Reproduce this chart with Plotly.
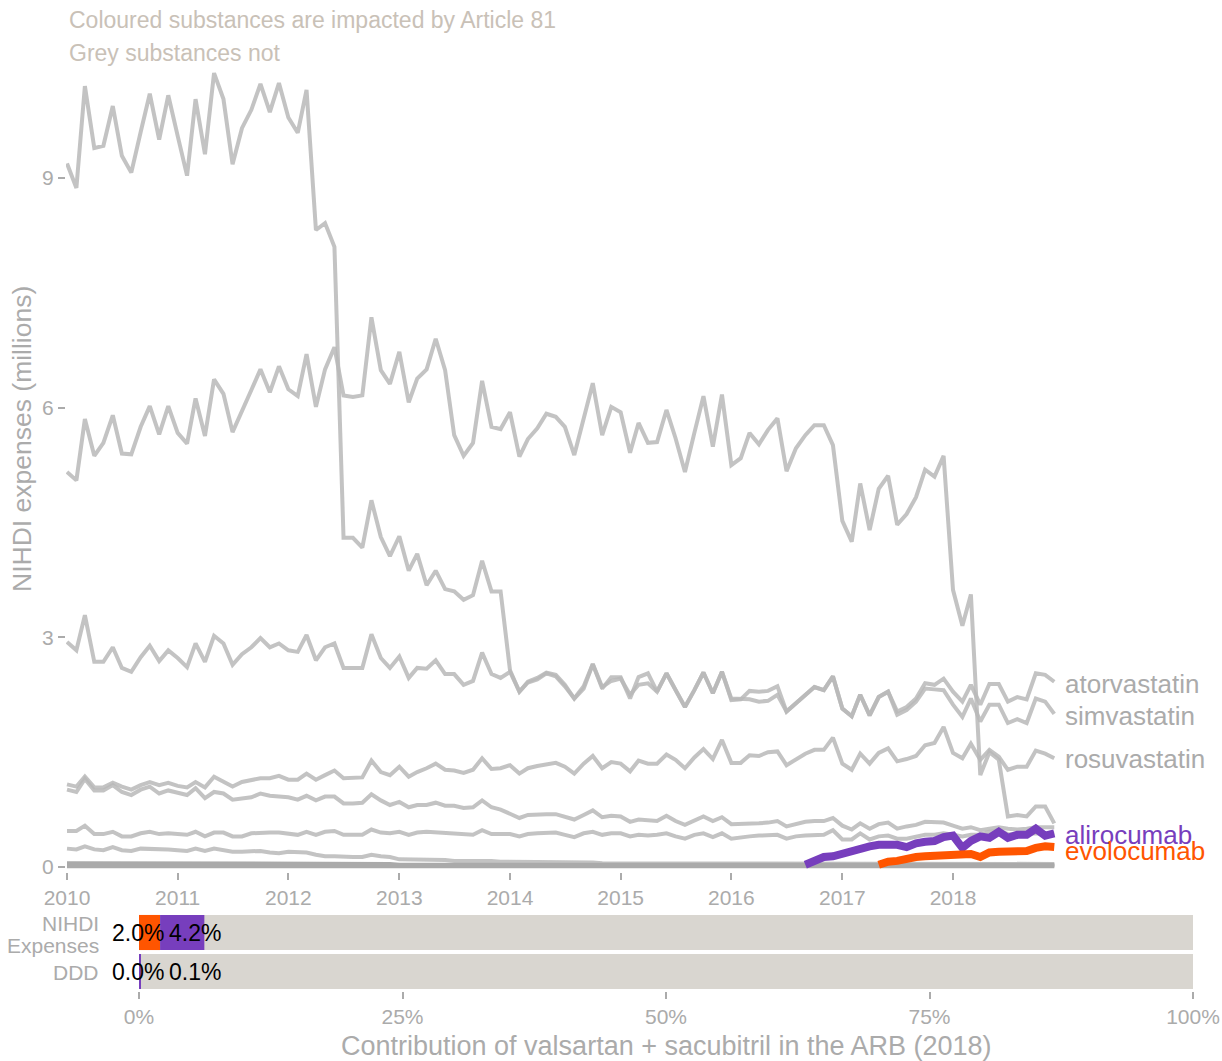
import plotly.graph_objects as go
import pandas as pd

# ---------------- data ----------------
months = list(pd.date_range("2010-01-01", "2018-12-01", freq="MS"))
year_ticks = [pd.Timestamp(f"{y}-01-01") for y in range(2010, 2019)]
year_labels = [str(y) for y in range(2010, 2019)]

atorvastatin = [
    9.19, 8.87, 10.2, 9.39, 9.42, 9.94, 9.29, 9.07, 9.6, 10.1,
    9.5, 10.08, 9.55, 9.03, 10.03, 9.31, 10.37, 10.03, 9.18, 9.65,
    9.89, 10.23, 9.86, 10.24, 9.79, 9.59, 10.15, 8.32, 8.41, 8.1,
    4.3, 4.3, 4.17, 4.79, 4.31, 4.06, 4.32, 3.87, 4.09, 3.68,
    3.87, 3.63, 3.6, 3.49, 3.55, 4.0, 3.6, 3.6, 2.57, 2.29,
    2.41, 2.45, 2.53, 2.49, 2.36, 2.2, 2.36, 2.65, 2.33, 2.48,
    2.48, 2.2, 2.48, 2.53, 2.29, 2.53, 2.31, 2.09, 2.31, 2.54,
    2.27, 2.55, 2.18, 2.19, 2.3, 2.29, 2.3, 2.36, 2.03, 2.14,
    2.25, 2.35, 2.31, 2.49, 2.07, 1.97, 2.25, 1.98, 2.22, 2.29,
    2.03, 2.09, 2.2, 2.4, 2.38, 2.46, 2.29, 2.16, 2.38, 2.12,
    2.39, 2.39, 2.16, 2.22, 2.19, 2.53, 2.51, 2.42,
]
simvastatin = [
    2.94, 2.83, 3.29, 2.68, 2.68, 2.87, 2.6, 2.55, 2.74, 2.89,
    2.69, 2.83, 2.73, 2.61, 2.92, 2.68, 3.02, 2.92, 2.64, 2.78,
    2.87, 2.99, 2.87, 2.92, 2.83, 2.81, 3.03, 2.7, 2.87, 2.92,
    2.6, 2.6, 2.6, 3.04, 2.73, 2.6, 2.75, 2.47, 2.6, 2.59,
    2.7, 2.52, 2.52, 2.38, 2.43, 2.8, 2.52, 2.47, 2.55, 2.29,
    2.42, 2.47, 2.54, 2.51, 2.38, 2.2, 2.33, 2.65, 2.35, 2.43,
    2.46, 2.25, 2.38, 2.4, 2.29, 2.53, 2.31, 2.09, 2.31, 2.54,
    2.27, 2.55, 2.2, 2.19, 2.19, 2.16, 2.17, 2.25, 2.03, 2.14,
    2.25, 2.35, 2.31, 2.49, 2.07, 1.97, 2.25, 1.98, 2.22, 2.29,
    1.99, 2.05, 2.16, 2.33, 2.32, 2.31, 2.12, 1.96, 2.2, 1.9,
    2.12, 2.12, 1.88, 1.93, 1.88, 2.2, 2.16, 2.0,
]
rosuvastatin = [
    1.08, 1.05, 1.18, 1.04, 1.04, 1.1, 1.05, 1.01, 1.07, 1.11,
    1.07, 1.1, 1.06, 1.04, 1.11, 1.04, 1.18, 1.11, 1.05, 1.11,
    1.14, 1.16, 1.16, 1.19, 1.14, 1.14, 1.22, 1.14, 1.2, 1.26,
    1.16, 1.16, 1.17, 1.39, 1.24, 1.2, 1.31, 1.18, 1.24, 1.29,
    1.35, 1.27, 1.26, 1.23, 1.27, 1.42, 1.28, 1.29, 1.33, 1.22,
    1.29, 1.32, 1.34, 1.36, 1.31, 1.22, 1.35, 1.45, 1.29, 1.37,
    1.35, 1.25, 1.39, 1.35, 1.35, 1.47, 1.4, 1.29, 1.43, 1.54,
    1.41, 1.66, 1.36, 1.36, 1.46, 1.45, 1.5, 1.51, 1.33, 1.41,
    1.48, 1.53, 1.53, 1.69, 1.35, 1.27, 1.48, 1.35, 1.49, 1.55,
    1.38, 1.41, 1.45, 1.59, 1.62, 1.83, 1.49, 1.42, 1.61, 1.4,
    1.53, 1.44, 1.27, 1.31, 1.31, 1.52, 1.48, 1.42,
]
other_statin_a = [
    5.16, 5.05, 5.85, 5.37, 5.54, 5.9, 5.4, 5.39, 5.75, 6.02,
    5.65, 6.02, 5.67, 5.53, 6.12, 5.63, 6.37, 6.18, 5.68, 5.97,
    6.23, 6.5, 6.2, 6.54, 6.24, 6.15, 6.7, 6.01, 6.5, 6.79,
    6.16, 6.14, 6.16, 7.18, 6.49, 6.31, 6.73, 6.07, 6.38, 6.5,
    6.9, 6.49, 5.64, 5.37, 5.54, 6.35, 5.75, 5.72, 5.94, 5.36,
    5.59, 5.73, 5.92, 5.88, 5.75, 5.38, 5.85, 6.32, 5.64, 6.01,
    5.94, 5.41, 5.8, 5.54, 5.55, 5.97, 5.6, 5.16, 5.67, 6.15,
    5.49, 6.17, 5.25, 5.34, 5.67, 5.52, 5.71, 5.86, 5.17, 5.47,
    5.64, 5.77, 5.77, 5.51, 4.52, 4.25, 5.01, 4.4, 4.94, 5.11,
    4.47, 4.61, 4.83, 5.19, 5.1, 5.37, 3.62, 3.15, 3.56, 1.2,
    1.5, 1.4, 0.66, 0.68, 0.66, 0.79, 0.79, 0.57,
]
other_statin_b = [
    1.01, 0.98, 1.15, 1.0, 1.0, 1.07, 0.98, 0.94, 1.01, 1.05,
    0.96, 1.0, 0.97, 0.94, 1.03, 0.9, 0.98, 0.96, 0.88, 0.9,
    0.91, 0.96, 0.93, 0.92, 0.91, 0.88, 0.93, 0.87, 0.92, 0.92,
    0.83, 0.83, 0.84, 0.95, 0.87, 0.81, 0.85, 0.78, 0.81, 0.81,
    0.84, 0.8, 0.8, 0.77, 0.78, 0.87, 0.78, 0.75, 0.7, 0.64,
    0.68, 0.69, 0.69, 0.69, 0.66, 0.62, 0.68, 0.74, 0.65, 0.67,
    0.66, 0.59, 0.62, 0.61, 0.6, 0.67, 0.6, 0.55, 0.6, 0.66,
    0.6, 0.65, 0.56, 0.56, 0.57, 0.57, 0.58, 0.6, 0.53, 0.56,
    0.59, 0.6, 0.6, 0.64, 0.54, 0.49, 0.57, 0.5, 0.56, 0.58,
    0.5, 0.53, 0.55, 0.59, 0.59, 0.58, 0.54, 0.5, 0.52, 0.48,
    0.5, 0.52, 0.5, 0.49, 0.5, 0.52, 0.52, 0.52,
]
other_statin_c = [
    0.47, 0.47, 0.54, 0.43, 0.43, 0.46, 0.4, 0.4, 0.44, 0.46,
    0.43, 0.44, 0.43, 0.42, 0.46, 0.4, 0.45, 0.45, 0.4, 0.4,
    0.44, 0.45, 0.45, 0.45, 0.43, 0.42, 0.46, 0.42, 0.46, 0.47,
    0.42, 0.42, 0.42, 0.49, 0.45, 0.44, 0.46, 0.42, 0.45, 0.46,
    0.45, 0.44, 0.43, 0.42, 0.42, 0.48, 0.43, 0.43, 0.43, 0.4,
    0.43, 0.44, 0.44, 0.45, 0.42, 0.39, 0.44, 0.46, 0.42, 0.44,
    0.44, 0.4, 0.42, 0.41, 0.42, 0.44, 0.4, 0.37, 0.42, 0.44,
    0.39, 0.44, 0.37, 0.39, 0.4, 0.41, 0.41, 0.42, 0.37, 0.4,
    0.41, 0.42, 0.42, 0.48, 0.36, 0.36, 0.44, 0.36, 0.4, 0.41,
    0.37, 0.37, 0.4, 0.42, 0.42, 0.44, 0.42, 0.4, 0.42, 0.42,
    0.46, 0.48, 0.43, 0.42, 0.43, 0.44, 0.43, 0.44,
]
other_statin_d = [
    0.24, 0.23, 0.27, 0.23, 0.22, 0.26, 0.22, 0.21, 0.24, 0.24,
    0.23, 0.23, 0.22, 0.21, 0.24, 0.21, 0.24, 0.22, 0.2, 0.2,
    0.21, 0.21, 0.19, 0.18, 0.2, 0.2, 0.19, 0.16, 0.14, 0.14,
    0.13, 0.13, 0.13, 0.16, 0.14, 0.13, 0.1, 0.1, 0.1, 0.09,
    0.09, 0.09, 0.08, 0.08, 0.08, 0.09, 0.08, 0.07, 0.07, 0.07,
    0.07, 0.06, 0.06, 0.06, 0.06, 0.06, 0.06, 0.06, 0.05, 0.05,
    0.05, 0.05, 0.05, 0.05, 0.05, 0.05, 0.05, 0.05, 0.05, 0.05,
    0.05, 0.05, 0.05, 0.05, 0.05, 0.05, 0.04, 0.04, 0.04, 0.04,
    0.04, 0.04, 0.04, 0.04, 0.04, 0.04, 0.04, 0.04, 0.04, 0.04,
    0.04, 0.04, 0.04, 0.04, 0.04, 0.04, 0.04, 0.04, 0.04, 0.04,
    0.04, 0.04, 0.04, 0.04, 0.04, 0.04, 0.04, 0.04,
]
other_statin_e = [
    0.05, 0.05, 0.05, 0.05, 0.05, 0.05, 0.05, 0.05, 0.05, 0.05,
    0.05, 0.05, 0.05, 0.05, 0.05, 0.05, 0.05, 0.05, 0.05, 0.05,
    0.04, 0.04, 0.04, 0.04, 0.04, 0.04, 0.04, 0.04, 0.04, 0.04,
    0.04, 0.04, 0.04, 0.04, 0.04, 0.04, 0.03, 0.03, 0.03, 0.03,
    0.03, 0.03, 0.03, 0.03, 0.03, 0.03, 0.03, 0.03, 0.03, 0.03,
    0.03, 0.03, 0.03, 0.03, 0.03, 0.03, 0.03, 0.03, 0.03, 0.03,
    0.03, 0.03, 0.03, 0.03, 0.03, 0.03, 0.03, 0.03, 0.03, 0.03,
    0.03, 0.03, 0.03, 0.03, 0.03, 0.03, 0.03, 0.03, 0.03, 0.03,
    0.03, 0.03, 0.03, 0.03, 0.03, 0.03, 0.03, 0.03, 0.03, 0.03,
    0.03, 0.03, 0.03, 0.03, 0.03, 0.03, 0.03, 0.03, 0.03, 0.03,
    0.03, 0.03, 0.03, 0.03, 0.03, 0.03, 0.03, 0.03,
]
other_statin_f = [
    0.01, 0.01, 0.01, 0.01, 0.01, 0.01, 0.01, 0.01, 0.01, 0.01,
    0.01, 0.01, 0.01, 0.01, 0.01, 0.01, 0.01, 0.01, 0.01, 0.01,
    0.01, 0.01, 0.01, 0.01, 0.01, 0.01, 0.01, 0.01, 0.01, 0.01,
    0.01, 0.01, 0.01, 0.01, 0.01, 0.01, 0.01, 0.01, 0.01, 0.01,
    0.01, 0.01, 0.01, 0.01, 0.01, 0.01, 0.01, 0.01, 0.01, 0.01,
    0.01, 0.01, 0.01, 0.01, 0.01, 0.01, 0.01, 0.01, 0.01, 0.01,
    0.01, 0.01, 0.01, 0.01, 0.01, 0.01, 0.01, 0.01, 0.01, 0.01,
    0.01, 0.01, 0.01, 0.01, 0.01, 0.01, 0.01, 0.01, 0.01, 0.01,
    0.01, 0.01, 0.01, 0.01, 0.01, 0.01, 0.01, 0.01, 0.01, 0.01,
    0.01, 0.01, 0.01, 0.01, 0.01, 0.01, 0.01, 0.01, 0.01, 0.01,
    0.01, 0.01, 0.01, 0.01, 0.01, 0.01, 0.01, 0.01,
]
other_statin_g = [
    0.02, 0.02, 0.02, 0.02, 0.02, 0.02, 0.02, 0.02, 0.02, 0.02,
    0.02, 0.02, 0.02, 0.02, 0.02, 0.02, 0.02, 0.02, 0.02, 0.02,
    0.02, 0.02, 0.02, 0.02, 0.02, 0.02, 0.02, 0.02, 0.02, 0.02,
    0.02, 0.02, 0.02, 0.02, 0.02, 0.02, 0.02, 0.02, 0.02, 0.02,
    0.02, 0.02, 0.02, 0.02, 0.02, 0.02, 0.02, 0.02, 0.02, 0.02,
    0.02, 0.02, 0.02, 0.02, 0.02, 0.02, 0.02, 0.02, 0.02, 0.02,
    0.02, 0.02, 0.02, 0.02, 0.02, 0.02, 0.02, 0.02, 0.02, 0.02,
    0.02, 0.02, 0.02, 0.02, 0.02, 0.02, 0.02, 0.02, 0.02, 0.02,
    0.02, 0.02, 0.02, 0.02, 0.02, 0.02, 0.02, 0.02, 0.02, 0.02,
    0.02, 0.02, 0.02, 0.02, 0.02, 0.02, 0.02, 0.02, 0.02, 0.02,
    0.02, 0.02, 0.02, 0.02, 0.02, 0.02, 0.02, 0.02,
]
# PCSK9 inhibitors (start later)
alirocumab = [
    0.03, 0.09, 0.13, 0.14, 0.18, 0.22, 0.24, 0.27, 0.29, 0.3,
    0.29, 0.26, 0.31, 0.33, 0.34, 0.39, 0.41, 0.25, 0.34, 0.4,
    0.38, 0.46, 0.38, 0.42, 0.42, 0.5, 0.41, 0.44,
]
evolocumab = [
    0.03, 0.07, 0.08, 0.11, 0.13, 0.14, 0.15, 0.16, 0.16, 0.18,
    0.17, 0.13, 0.19, 0.2, 0.2, 0.19, 0.21, 0.25, 0.27, 0.26,
]
alirocumab_months = months[len(months) - len(alirocumab):]
evolocumab_months = months[len(months) - len(evolocumab):]

# bottom bar chart
bar_rows = ["DDD", "NIHDI Expenses"]
evolocumab_share = [0.04, 2.0]
alirocumab_share = [0.1, 4.2]
total_share = [100, 100]
pct_ticks = [0, 25, 50, 75, 100]
pct_labels = ["0%", "25%", "50%", "75%", "100%"]

# ---------------- style ----------------
W, H = 1222, 1061
FONT = "Liberation Sans, Arial, sans-serif"
GREY_TXT = "#ABABAB"
LINE_GREY = "rgba(185,185,185,0.85)"
ZERO_GREY = "#AAAAAA"
PURPLE = "#773EBD"
ORANGE = "#FF5500"
BAR_GREY = "#D9D6D0"


def px_x(p):
    return p / W


def px_y(p):
    return 1 - p / H


fig = go.Figure()

grey_series = [
    ("atorvastatin", atorvastatin, LINE_GREY),
    ("simvastatin", simvastatin, LINE_GREY),
    ("rosuvastatin", rosuvastatin, LINE_GREY),
    ("a", other_statin_a, LINE_GREY),
    ("b", other_statin_b, LINE_GREY),
    ("c", other_statin_c, LINE_GREY),
    ("d", other_statin_d, LINE_GREY),
    ("e", other_statin_e, ZERO_GREY),
    ("f", other_statin_f, ZERO_GREY),
    ("g", other_statin_g, ZERO_GREY),
]
for name, vals, col in grey_series:
    fig.add_trace(go.Scatter(
        x=months, y=vals, mode="lines", name=name,
        line=dict(color=col, width=4), hoverinfo="skip",
        xaxis="x", yaxis="y", showlegend=False))

fig.add_trace(go.Scatter(x=alirocumab_months, y=alirocumab, mode="lines",
                         line=dict(color=PURPLE, width=8), showlegend=False,
                         xaxis="x", yaxis="y"))
fig.add_trace(go.Scatter(x=evolocumab_months, y=evolocumab, mode="lines",
                         line=dict(color=ORANGE, width=8), showlegend=False,
                         xaxis="x", yaxis="y"))

# bars
rows_idx = [0, 1]
fig.add_trace(go.Bar(y=rows_idx, x=total_share, base=[0, 0], orientation="h",
                     marker=dict(color=BAR_GREY, line=dict(width=0)), width=0.9,
                     xaxis="x2", yaxis="y2", showlegend=False, hoverinfo="skip"))
fig.add_trace(go.Bar(y=rows_idx, x=evolocumab_share, base=[0, 0], orientation="h",
                     marker=dict(color=ORANGE, line=dict(width=0)), width=0.9,
                     xaxis="x2", yaxis="y2", showlegend=False))
fig.add_trace(go.Bar(y=rows_idx, x=alirocumab_share, base=evolocumab_share,
                     orientation="h",
                     marker=dict(color=PURPLE, line=dict(width=0)), width=0.9,
                     xaxis="x2", yaxis="y2", showlegend=False))

annotations = []
# bar value labels
label_x = [-0.1, 5.35]
for i in rows_idx:
    for xv, val in zip(label_x, [evolocumab_share[i], alirocumab_share[i]]):
        annotations.append(dict(
            x=xv, y=i, xref="x2", yref="y2", text=f"{val:.1f}%",
            showarrow=False, xanchor="center", yanchor="middle",
            font=dict(family=FONT, size=23, color="black")))

# row labels of the bar chart (right aligned, tight line spacing)
row_label_lines = [("DDD", 972), ("Expenses", 945), ("NIHDI", 923)]
for txt, ypx in row_label_lines:
    annotations.append(dict(x=px_x(101), y=px_y(ypx), xref="paper", yref="paper",
                            text=txt, showarrow=False, xanchor="right",
                            yanchor="middle",
                            font=dict(family=FONT, size=21, color=GREY_TXT)))

# end-of-line labels
end_labels = [
    ("atorvastatin", atorvastatin[-1], GREY_TXT, -2),
    ("simvastatin", simvastatin[-1], GREY_TXT, -2),
    ("rosuvastatin", rosuvastatin[-1], GREY_TXT, -1),
    ("alirocumab", alirocumab[-1], PURPLE, -2),
    ("evolocumab", evolocumab[-1], ORANGE, -4),
]
for text, yv, col, ys in end_labels:
    annotations.append(dict(
        x=months[-1], y=yv, xref="x", yref="y", text=text, showarrow=False,
        xanchor="left", yanchor="middle", xshift=9, yshift=ys,
        font=dict(family=FONT, size=26, color=col)))

# top notes
annotations.append(dict(x=px_x(67), y=px_y(20), xref="paper", yref="paper",
                        text="Coloured substances are impacted by Article 81",
                        showarrow=False, xanchor="left", yanchor="middle",
                        font=dict(family=FONT, size=23, color="#C9C1B7")))
annotations.append(dict(x=px_x(67), y=px_y(53), xref="paper", yref="paper",
                        text="Grey substances not",
                        showarrow=False, xanchor="left", yanchor="middle",
                        font=dict(family=FONT, size=23, color="#C9C1B7")))
# axis titles
annotations.append(dict(x=px_x(22), y=px_y(439), xref="paper", yref="paper",
                        text="NIHDI expenses (millions)", textangle=-90,
                        showarrow=False, xanchor="center", yanchor="middle",
                        font=dict(family=FONT, size=26.5, color=GREY_TXT)))
annotations.append(dict(x=px_x(666), y=px_y(1046), xref="paper", yref="paper",
                        text="Contribution of valsartan + sacubitril in the ARB (2018)",
                        showarrow=False, xanchor="center", yanchor="middle",
                        font=dict(family=FONT, size=27, color=GREY_TXT)))

# main axes geometry (pixel based)
px_per_day = 110.75 / 365.25
x_left_px, x_right_px = 66, 1060
x0 = pd.Timestamp("2010-01-01") + pd.Timedelta(days=(x_left_px - 67) / px_per_day)
x1 = pd.Timestamp("2010-01-01") + pd.Timedelta(days=(x_right_px - 67) / px_per_day)
px_per_unit = 76.56
y_top_px, y_bot_px = 62, 872
y_lo = (867 - y_bot_px) / px_per_unit
y_hi = (867 - y_top_px) / px_per_unit

bx_left_px, bx_right_px = 104, 1200
bx0 = (bx_left_px - 139) / 10.54
bx1 = (bx_right_px - 139) / 10.54

axis_font = dict(family=FONT, size=21, color=GREY_TXT)

fig.update_layout(
    template="none",
    width=W, height=H, autosize=False,
    margin=dict(l=0, r=0, t=0, b=0, pad=0),
    paper_bgcolor="white", plot_bgcolor="white",
    barmode="overlay", showlegend=False,
    font=dict(family=FONT),
    xaxis=dict(domain=[px_x(x_left_px), px_x(x_right_px)], type="date",
               range=[x0, x1], tickvals=year_ticks, ticktext=year_labels,
               ticks="outside", ticklen=7, tickwidth=1.5, tickcolor=GREY_TXT,
               tickfont=axis_font, showgrid=False, zeroline=False,
               showline=False, anchor="y", automargin=False),
    yaxis=dict(domain=[px_y(y_bot_px), px_y(y_top_px)], range=[y_lo, y_hi],
               tickvals=[0, 3, 6, 9], ticks="outside", ticklen=7, tickwidth=1.5,
               tickcolor=GREY_TXT, tickfont=axis_font, showgrid=False,
               zeroline=False, showline=False, anchor="x", automargin=False),
    xaxis2=dict(domain=[px_x(bx_left_px), px_x(bx_right_px)], range=[bx0, bx1],
                tickvals=pct_ticks, ticktext=pct_labels, ticks="outside",
                ticklen=7, tickwidth=1.5, tickcolor=GREY_TXT, tickfont=axis_font,
                showgrid=False, zeroline=False, showline=False, anchor="y2",
                automargin=False),
    yaxis2=dict(domain=[px_y(991), px_y(913)], range=[-0.5, 1.5],
                tickvals=rows_idx, showticklabels=False, ticks="",
                showgrid=False, zeroline=False,
                showline=False, anchor="x2", automargin=False),
    annotations=annotations,
)

fig.write_html(
    "out.html",
    config={"displayModeBar": False},
    post_script="document.body.style.margin='0px';"
                "document.body.style.overflow='hidden';",
)
